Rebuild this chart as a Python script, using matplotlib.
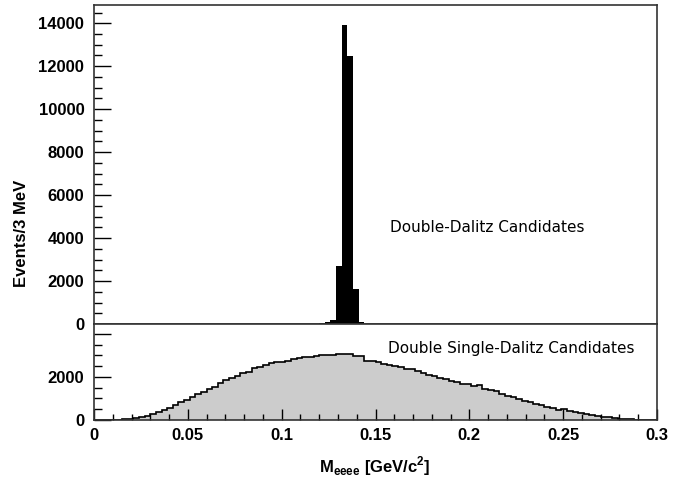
import numpy as np
import matplotlib
matplotlib.use("Agg")
import matplotlib.pyplot as plt
from matplotlib.ticker import MultipleLocator, FixedLocator

# 3 MeV bins from 0 to 0.3 GeV
edges = np.linspace(0.0, 0.3, 101)

# Double-Dalitz candidates (top panel), non-zero bins only
peak_bins = [39, 40, 41, 42, 43, 44, 45, 46, 47, 48]
peak_vals = [20, 50, 80, 180, 2690, 13900, 12470, 1620, 100, 10]

# Double Single-Dalitz candidates (bottom panel)
single_vals = [0, 0, 0, 10, 20, 30, 50, 90, 140, 200,
               280, 375, 485, 580, 690, 815, 920, 1080, 1200, 1310,
               1420, 1520, 1720, 1880, 1950, 2050, 2205, 2240, 2410, 2470,
               2535, 2630, 2710, 2710, 2750, 2820, 2860, 2910, 2940, 2975,
               3005, 3005, 3035, 3080, 3080, 3070, 2975, 2975, 2755, 2755,
               2675, 2600, 2550, 2490, 2440, 2380, 2350, 2255, 2190, 2110,
               2050, 1970, 1910, 1830, 1750, 1690, 1660, 1565, 1640, 1455,
               1410, 1360, 1220, 1125, 1065, 970, 890, 815, 735, 675,
               610, 550, 485, 500, 405, 360, 315, 265, 235, 190,
               155, 125, 95, 65, 50, 30, 15, 0, 0, 0]

x_ticks = [0, 0.05, 0.1, 0.15, 0.2, 0.25, 0.3]
x_labels = ["0", "0.05", "0.1", "0.15", "0.2", "0.25", "0.3"]

peak_counts = np.zeros(100)
peak_counts[peak_bins] = peak_vals
single_counts = np.array(single_vals, dtype=float)

tick_font = dict(family="Liberation Sans", weight="bold", size=12)

fig = plt.figure(figsize=(6.96, 4.79), dpi=100)
ax1 = fig.add_axes([94/696, 1-324/479, (657-94)/696, (324-5)/479])
ax2 = fig.add_axes([94/696, 1-420/479, (657-94)/696, (420-324)/479])

ax1.stairs(peak_counts, edges, fill=True, color="black")
ax2.stairs(single_counts, edges, fill=True, color="#cccccc")
ax2.stairs(single_counts, edges, color="black", lw=1.2)

ax1.set_xlim(0, 0.3)
ax2.set_xlim(0, 0.3)
ax1.set_ylim(0, 14850)
ax2.set_ylim(0, 4460)

for ax in (ax1, ax2):
    for s in ax.spines.values():
        s.set_color("#333333")
        s.set_linewidth(1.2)

ax1.yaxis.set_major_locator(MultipleLocator(2000))
ax1.yaxis.set_minor_locator(MultipleLocator(500))
ax1.tick_params(axis="x", which="both", bottom=False, labelbottom=False)
ax1.tick_params(axis="y", which="major", direction="in", length=12, width=1, pad=7)
ax1.tick_params(axis="y", which="minor", direction="in", length=5.8, width=1)

ax2.yaxis.set_major_locator(FixedLocator([0, 2000, 4000]))
ax2.yaxis.set_minor_locator(MultipleLocator(500))
ax2.set_yticklabels(["0", "2000", ""])
ax2.set_xticks(x_ticks)
ax2.set_xticklabels(x_labels)
ax2.xaxis.set_minor_locator(MultipleLocator(0.01))
ax2.tick_params(axis="y", which="major", direction="in", length=12, width=1, pad=7)
ax2.tick_params(axis="y", which="minor", direction="in", length=5.8, width=1)
ax2.tick_params(axis="x", which="major", direction="in", length=8, width=1, pad=6)
ax2.tick_params(axis="x", which="minor", direction="in", length=4, width=1)

for ax in (ax1, ax2):
    for lab in ax.get_xticklabels() + ax.get_yticklabels():
        lab.set_fontproperties(tick_font)

ax1.text(0.526, 0.303, "Double-Dalitz Candidates", transform=ax1.transAxes,
         fontsize=11, family="DejaVu Sans", va="center", ha="left")
ax2.text(0.522, 0.74, "Double Single-Dalitz Candidates", transform=ax2.transAxes,
         fontsize=11, family="DejaVu Sans", va="center", ha="left")

fig.text(22/696, 1-233/479, "Events/3 MeV", rotation=90, ha="center", va="center",
         **tick_font)
fig.text(375/696, 1-466/479, r"M$_{\mathregular{eeee}}$ [GeV/c$^{\mathregular{2}}$]",
         ha="center", va="center", **tick_font)

fig.savefig("out.png", dpi=100)
